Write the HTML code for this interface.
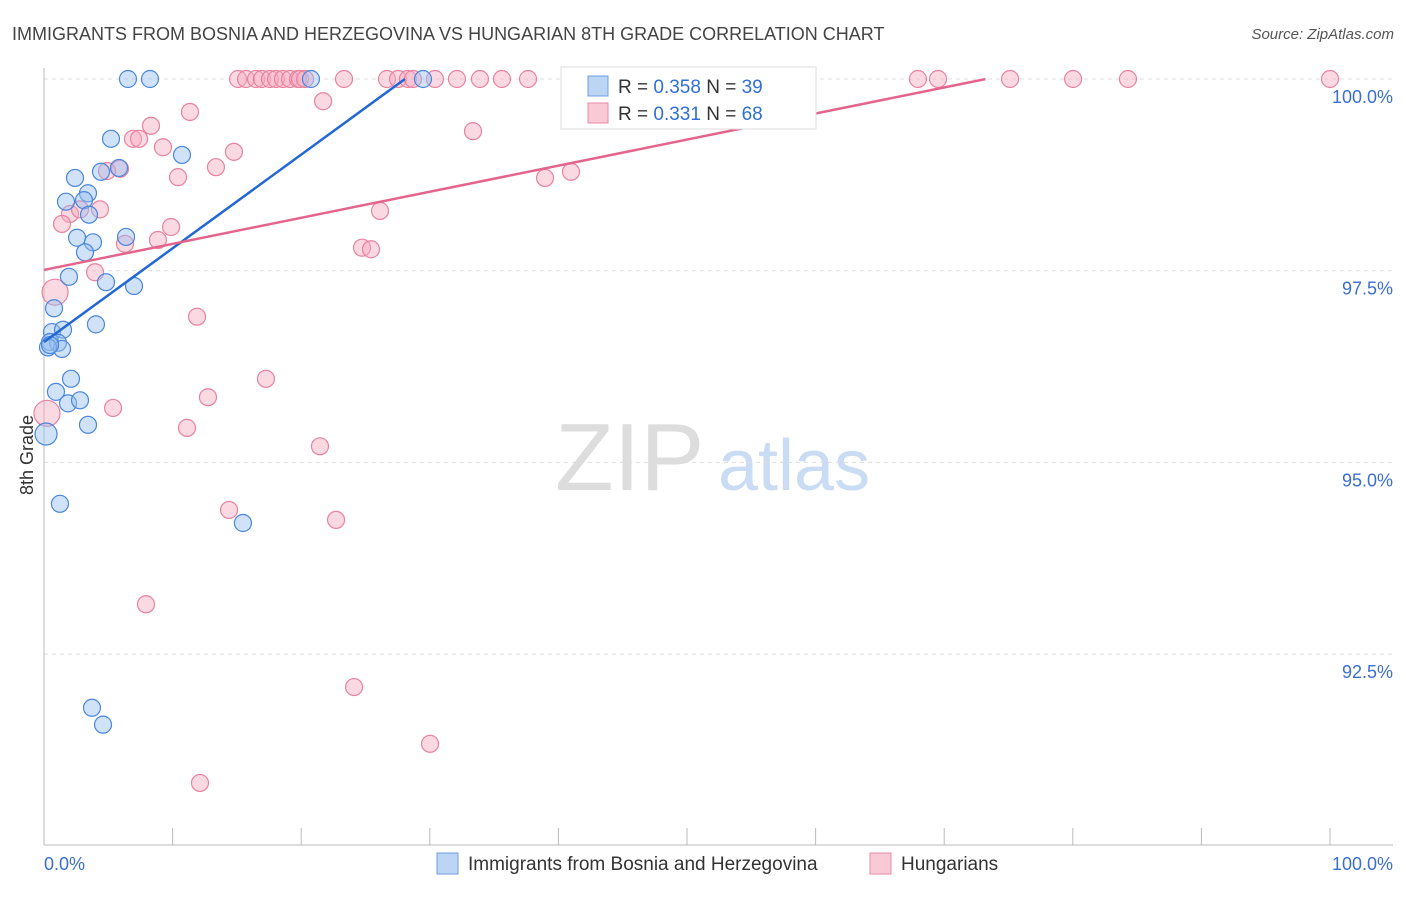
<!DOCTYPE html>
<html><head><meta charset="utf-8"><style>
body{margin:0;background:#fff;font-family:"Liberation Sans",sans-serif;}
svg text{font-family:"Liberation Sans",sans-serif;}
</style></head><body>
<svg id="chart" width="1406" height="892" xmlns="http://www.w3.org/2000/svg">
<text x="12" y="40" font-size="18" fill="#444">IMMIGRANTS FROM BOSNIA AND HERZEGOVINA VS HUNGARIAN 8TH GRADE CORRELATION CHART</text>
<text x="1394" y="39" font-size="15" fill="#555" text-anchor="end" font-style="italic">Source: ZipAtlas.com</text>
<g>
<text x="555" y="490" font-size="96" fill="#ddd" font-family="Liberation Serif">ZIP</text>
<text x="718" y="490" font-size="72" fill="#c9dcf3">atlas</text>
</g>
<text transform="translate(33,455) rotate(-90)" font-size="18" fill="#333" text-anchor="middle">8th Grade</text>
<g id="grid"></g><g id="axes"></g><g id="pink"></g><g id="blue"></g><g id="lines"></g>
<g>
<rect x="561" y="67" width="255" height="62" fill="#fff" stroke="#ddd"/>
<rect x="588" y="76" width="20" height="20" fill="#bcd5f5" stroke="#6d9de0"/>
<text x="618" y="93" font-size="19" fill="#333">R = <tspan fill="#2f6fd6">0.358</tspan>   N = <tspan fill="#2f6fd6">39</tspan></text>
<rect x="588" y="103" width="20" height="20" fill="#f9c9d6" stroke="#e88aa6"/>
<text x="618" y="120" font-size="19" fill="#333">R =  <tspan fill="#2f6fd6">0.331</tspan>   N = <tspan fill="#2f6fd6">68</tspan></text>
</g>
<g>
<rect x="437" y="853" width="21" height="21" fill="#bcd5f5" stroke="#6d9de0"/>
<text x="468" y="870" font-size="19" fill="#333">Immigrants from Bosnia and Herzegovina</text>
<rect x="870" y="853" width="21" height="21" fill="#f9c9d6" stroke="#e88aa6"/>
<text x="901" y="870" font-size="19" fill="#333">Hungarians</text>
</g>
</svg>
<script>
const blueX=[6.53,8.24,20.76,29.47,5.21,10.73,2.41,4.43,5.83,3.42,1.71,3.11,3.50,2.57,3.81,6.38,3.19,1.94,4.82,7.00,0.78,4.04,0.62,1.48,0.47,1.09,1.40,0.31,2.10,0.93,1.87,2.80,3.42,0.16,1.24,15.47,3.73,4.59,0.47];
const blueY=[100,100,100,100,99.22,99.01,98.71,98.79,98.84,98.51,98.40,98.42,98.23,97.93,97.87,97.94,97.74,97.42,97.35,97.30,97.01,96.80,96.70,96.73,96.57,96.56,96.48,96.50,96.09,95.92,95.77,95.81,95.49,95.37,94.46,94.21,91.80,91.58,96.53];
const pinkX=[15.09,15.71,16.49,16.95,17.57,18.04,18.58,19.13,19.75,19.91,20.30,23.33,26.67,27.53,28.30,28.69,30.40,32.11,33.90,35.61,37.64,53.27,53.73,67.96,69.52,75.12,80.02,84.29,100,
11.35,21.70,8.32,6.92,7.39,9.25,14.77,13.37,10.42,5.91,4.90,33.36,38.96,40.98,4.35,2.02,2.80,1.40,26.13,9.88,8.86,6.30,24.73,25.43,3.97,0.86,11.90,17.26,12.75,5.37,0.23,11.12,21.46,14.39,22.71,7.93,24.11,30.02,12.13];
const pinkY=[100,100,100,100,100,100,100,100,100,100,100,100,100,100,100,100,100,100,100,100,100,100,100,100,100,100,100,100,100,
99.57,99.71,99.39,99.22,99.22,99.11,99.05,98.85,98.72,98.83,98.80,99.32,98.71,98.79,98.30,98.24,98.30,98.11,98.28,98.07,97.90,97.85,97.80,97.78,97.48,97.22,96.90,96.09,95.85,95.71,95.64,95.45,95.21,94.38,94.25,93.15,92.07,91.33,90.82];
const pinkBig=[0.86,0.23];
const yTicks=[100,97.5,95,92.5];
const yTickLabels=["100.0%","97.5%","95.0%","92.5%"];
const xTicks=[0,10,20,30,40,50,60,70,80,90,100];
const blueTrend=[0.1222,96.57,0,28.07];
const pinkTrend=[0.0340,97.51,0,73.2];
const NS="http://www.w3.org/2000/svg";
const sx=v=>44+v*12.86, sy=v=>79+(100-v)*76.68;
function mk(g,t,a){const e=document.createElementNS(NS,t);for(const k in a)e.setAttribute(k,a[k]);document.getElementById(g).appendChild(e);return e;}
yTicks.forEach((t,i)=>{
 const l=mk('grid','line',{x1:44,x2:1393,y1:sy(t),y2:sy(t),stroke:'#ddd','stroke-dasharray':'4,4'});
 
 
 const tx=mk('grid','text',{x:1393,y:sy(t)+24,'font-size':18,fill:'#3a6fd0','text-anchor':'end'});
 tx.textContent=yTickLabels[i];
 
 
});
const ax=mk('axes','line',{x1:44,x2:44,y1:68,y2:845,stroke:'#bbb'});


const bx=mk('axes','line',{x1:44,x2:1393,y1:845,y2:845,stroke:'#bbb'});


xTicks.forEach(t=>{const l=mk('axes','line',{x1:sx(t),x2:sx(t),y1:828,y2:845,stroke:'#bbb'});
 
 });
const x0=mk('axes','text',{x:44,y:870,'font-size':18,fill:'#3a6fd0'});x0.textContent='0.0%';


const x1=mk('axes','text',{x:1393,y:870,'font-size':18,fill:'#3a6fd0','text-anchor':'end'});x1.textContent='100.0%';


pinkX.forEach((x,i)=>{const big=pinkBig.includes(x);
 const c=mk('pink','circle',{cx:sx(x),cy:sy(pinkY[i]),r:big?13:8.5,fill:'rgba(246,170,192,0.45)',stroke:'#e8829f','stroke-width':1.2});
 
 });
blueX.forEach((x,i)=>{const c=mk('blue','circle',{cx:sx(x),cy:sy(blueY[i]),r:i==33?11:8.5,fill:'rgba(150,190,240,0.45)',stroke:'#4a86dc','stroke-width':1.2});
 
 });
[[blueTrend,'#2268d4','bosnia-trend-line'],[pinkTrend,'#e4648c','hungarians-trend-line']].forEach(([t,c,n])=>{
 const l=mk('lines','line',{x1:sx(t[2]),y1:sy(t[1]+t[0]*t[2]),x2:sx(t[3]),y2:sy(t[1]+t[0]*t[3]),stroke:c,'stroke-width':2.5});
 
 });
</script>
</body></html>
